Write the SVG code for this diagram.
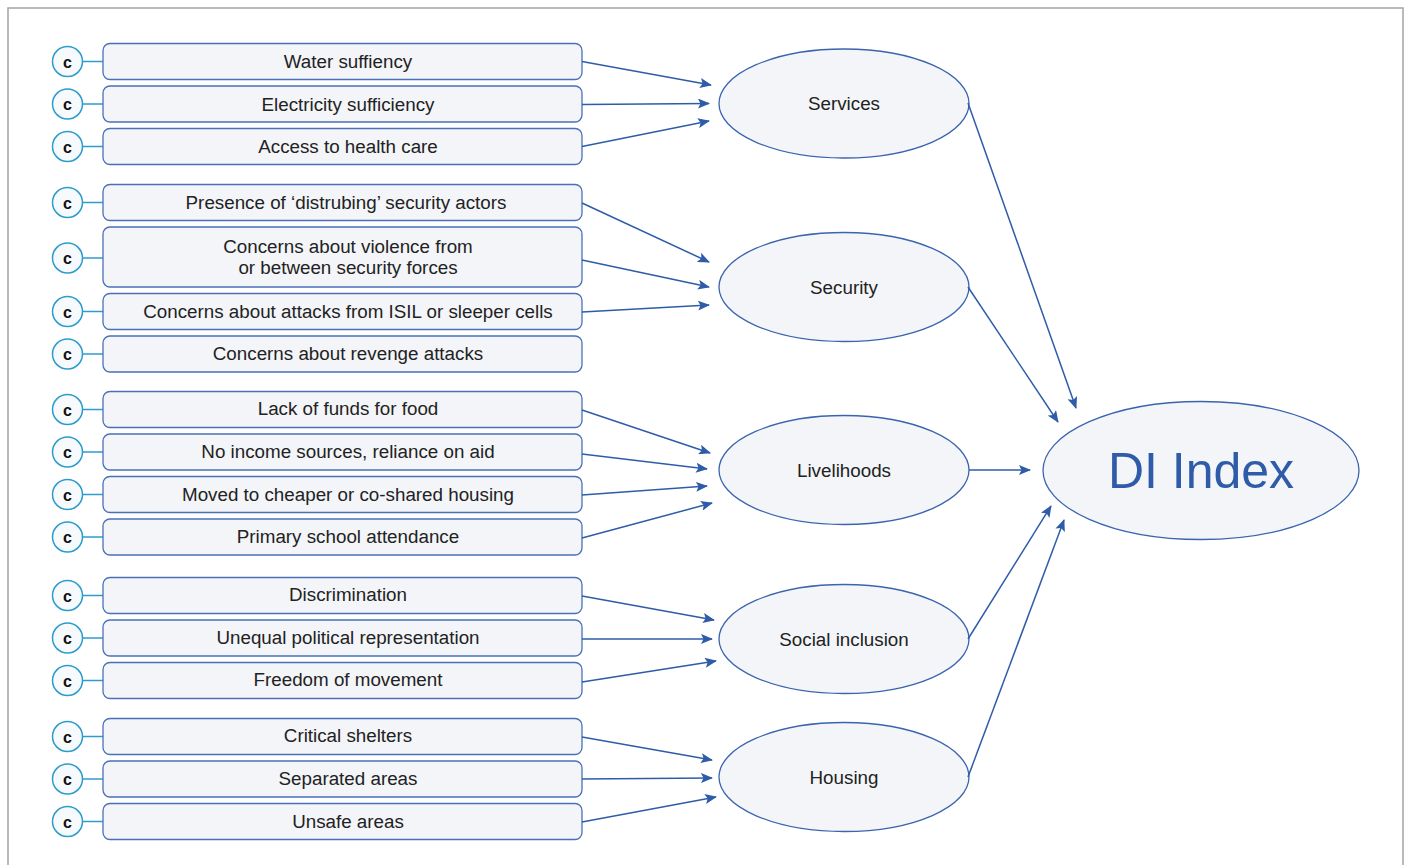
<svg xmlns="http://www.w3.org/2000/svg" width="1410" height="865" viewBox="0 0 1410 865">
  <defs>
    <marker id="arrow" viewBox="0 0 12 10" refX="11" refY="5" markerWidth="12" markerHeight="10" markerUnits="userSpaceOnUse" orient="auto">
      <path d="M0,0 L12,5 L0,10 L2.5,5 Z" fill="#2e5ca8"/>
    </marker>
    <style>
      .frame { fill: none; stroke: #a3a3ab; stroke-width: 1.5; }
      .c-circ { fill: #f6fafc; stroke: #2b9ccc; stroke-width: 1.5; }
      .c-link { stroke: #2b9ccc; stroke-width: 1.5; }
      .c-txt { font-family: "Liberation Sans", Arial, sans-serif; font-size: 16px; font-weight: bold; fill: #111; text-anchor: middle; }
      .box { fill: #f3f5f9; stroke: #4a70b8; stroke-width: 1.3; }
      .lbl { font-family: "Liberation Sans", Arial, sans-serif; font-size: 18.8px; fill: #222; text-anchor: middle; }
      .ell { fill: #f3f5f9; stroke: #3a64ae; stroke-width: 1.3; }
      .big { font-family: "Liberation Sans", Arial, sans-serif; font-size: 50px; fill: #2e5ca8; text-anchor: middle; }
      .edge { fill: none; stroke: #2e5ca8; stroke-width: 1.5; marker-end: url(#arrow); }
    </style>
  </defs>

  <rect width="1410" height="865" fill="#ffffff"/>
  <path class="frame" d="M8,866 V8 H1403 V866"/>

  <!-- indicator boxes with their "c" badges -->
  <g id="n-water">
    <line class="c-link" x1="82" y1="61.5" x2="103" y2="61.5"/>
    <circle class="c-circ" cx="67.5" cy="61.5" r="15"/>
    <text class="c-txt" x="67.5" y="67.5">c</text>
    <rect class="box" x="103" y="43.5" width="479" height="36" rx="7"/>
    <text class="lbl" x="348" y="68">Water suffiency</text>
  </g>
  <g id="n-electricity">
    <line class="c-link" x1="82" y1="104" x2="103" y2="104"/>
    <circle class="c-circ" cx="67.5" cy="104" r="15"/>
    <text class="c-txt" x="67.5" y="110">c</text>
    <rect class="box" x="103" y="86" width="479" height="36" rx="7"/>
    <text class="lbl" x="348" y="110.5">Electricity sufficiency</text>
  </g>
  <g id="n-health">
    <line class="c-link" x1="82" y1="146.5" x2="103" y2="146.5"/>
    <circle class="c-circ" cx="67.5" cy="146.5" r="15"/>
    <text class="c-txt" x="67.5" y="152.5">c</text>
    <rect class="box" x="103" y="128.5" width="479" height="36" rx="7"/>
    <text class="lbl" x="348" y="153">Access to health care</text>
  </g>

  <g id="n-actors">
    <line class="c-link" x1="82" y1="202.5" x2="103" y2="202.5"/>
    <circle class="c-circ" cx="67.5" cy="202.5" r="15"/>
    <text class="c-txt" x="67.5" y="208.5">c</text>
    <rect class="box" x="103" y="184.5" width="479" height="36" rx="7"/>
    <text class="lbl" x="346" y="208.5">Presence of ‘distrubing’ security actors</text>
  </g>
  <g id="n-violence">
    <line class="c-link" x1="82" y1="258" x2="103" y2="258"/>
    <circle class="c-circ" cx="67.5" cy="258" r="15"/>
    <text class="c-txt" x="67.5" y="264">c</text>
    <rect class="box" x="103" y="227" width="479" height="60" rx="7"/>
    <text class="lbl" x="348" y="252.5">Concerns about violence from</text>
    <text class="lbl" x="348" y="274">or between security forces</text>
  </g>
  <g id="n-isil">
    <line class="c-link" x1="82" y1="311.5" x2="103" y2="311.5"/>
    <circle class="c-circ" cx="67.5" cy="311.5" r="15"/>
    <text class="c-txt" x="67.5" y="317.5">c</text>
    <rect class="box" x="103" y="293.5" width="479" height="36" rx="7"/>
    <text class="lbl" x="348" y="317.5">Concerns about attacks from ISIL or sleeper cells</text>
  </g>
  <g id="n-revenge">
    <line class="c-link" x1="82" y1="354" x2="103" y2="354"/>
    <circle class="c-circ" cx="67.5" cy="354" r="15"/>
    <text class="c-txt" x="67.5" y="360">c</text>
    <rect class="box" x="103" y="336" width="479" height="36" rx="7"/>
    <text class="lbl" x="348" y="360">Concerns about revenge attacks</text>
  </g>

  <g id="n-food">
    <line class="c-link" x1="82" y1="409.5" x2="103" y2="409.5"/>
    <circle class="c-circ" cx="67.5" cy="409.5" r="15"/>
    <text class="c-txt" x="67.5" y="415.5">c</text>
    <rect class="box" x="103" y="391.5" width="479" height="36" rx="7"/>
    <text class="lbl" x="348" y="415">Lack of funds for food</text>
  </g>
  <g id="n-income">
    <line class="c-link" x1="82" y1="452" x2="103" y2="452"/>
    <circle class="c-circ" cx="67.5" cy="452" r="15"/>
    <text class="c-txt" x="67.5" y="458">c</text>
    <rect class="box" x="103" y="434" width="479" height="36" rx="7"/>
    <text class="lbl" x="348" y="458">No income sources, reliance on aid</text>
  </g>
  <g id="n-housing-move">
    <line class="c-link" x1="82" y1="494.5" x2="103" y2="494.5"/>
    <circle class="c-circ" cx="67.5" cy="494.5" r="15"/>
    <text class="c-txt" x="67.5" y="500.5">c</text>
    <rect class="box" x="103" y="476.5" width="479" height="36" rx="7"/>
    <text class="lbl" x="348" y="500.5">Moved to cheaper or co-shared housing</text>
  </g>
  <g id="n-school">
    <line class="c-link" x1="82" y1="537" x2="103" y2="537"/>
    <circle class="c-circ" cx="67.5" cy="537" r="15"/>
    <text class="c-txt" x="67.5" y="543">c</text>
    <rect class="box" x="103" y="519" width="479" height="36" rx="7"/>
    <text class="lbl" x="348" y="543">Primary school attendance</text>
  </g>

  <g id="n-discrimination">
    <line class="c-link" x1="82" y1="595.5" x2="103" y2="595.5"/>
    <circle class="c-circ" cx="67.5" cy="595.5" r="15"/>
    <text class="c-txt" x="67.5" y="601.5">c</text>
    <rect class="box" x="103" y="577.5" width="479" height="36" rx="7"/>
    <text class="lbl" x="348" y="601">Discrimination</text>
  </g>
  <g id="n-political">
    <line class="c-link" x1="82" y1="638" x2="103" y2="638"/>
    <circle class="c-circ" cx="67.5" cy="638" r="15"/>
    <text class="c-txt" x="67.5" y="644">c</text>
    <rect class="box" x="103" y="620" width="479" height="36" rx="7"/>
    <text class="lbl" x="348" y="644">Unequal political representation</text>
  </g>
  <g id="n-movement">
    <line class="c-link" x1="82" y1="680.5" x2="103" y2="680.5"/>
    <circle class="c-circ" cx="67.5" cy="680.5" r="15"/>
    <text class="c-txt" x="67.5" y="686.5">c</text>
    <rect class="box" x="103" y="662.5" width="479" height="36" rx="7"/>
    <text class="lbl" x="348" y="686">Freedom of movement</text>
  </g>

  <g id="n-shelters">
    <line class="c-link" x1="82" y1="736.5" x2="103" y2="736.5"/>
    <circle class="c-circ" cx="67.5" cy="736.5" r="15"/>
    <text class="c-txt" x="67.5" y="742.5">c</text>
    <rect class="box" x="103" y="718.5" width="479" height="36" rx="7"/>
    <text class="lbl" x="348" y="742">Critical shelters</text>
  </g>
  <g id="n-separated">
    <line class="c-link" x1="82" y1="779" x2="103" y2="779"/>
    <circle class="c-circ" cx="67.5" cy="779" r="15"/>
    <text class="c-txt" x="67.5" y="785">c</text>
    <rect class="box" x="103" y="761" width="479" height="36" rx="7"/>
    <text class="lbl" x="348" y="785">Separated areas</text>
  </g>
  <g id="n-unsafe">
    <line class="c-link" x1="82" y1="821.5" x2="103" y2="821.5"/>
    <circle class="c-circ" cx="67.5" cy="821.5" r="15"/>
    <text class="c-txt" x="67.5" y="827.5">c</text>
    <rect class="box" x="103" y="803.5" width="479" height="36" rx="7"/>
    <text class="lbl" x="348" y="828">Unsafe areas</text>
  </g>

  <!-- dimension ellipses -->
  <g id="n-services">
    <ellipse class="ell" cx="844" cy="103.5" rx="125" ry="54.5"/>
    <text class="lbl" x="844" y="110">Services</text>
  </g>
  <g id="n-security">
    <ellipse class="ell" cx="844" cy="287" rx="125" ry="54.5"/>
    <text class="lbl" x="844" y="294">Security</text>
  </g>
  <g id="n-livelihoods">
    <ellipse class="ell" cx="844" cy="470" rx="125" ry="54.5"/>
    <text class="lbl" x="844" y="477">Livelihoods</text>
  </g>
  <g id="n-social">
    <ellipse class="ell" cx="844" cy="639" rx="125" ry="54.5"/>
    <text class="lbl" x="844" y="646">Social inclusion</text>
  </g>
  <g id="n-housing">
    <ellipse class="ell" cx="844" cy="777" rx="125" ry="54.5"/>
    <text class="lbl" x="844" y="784">Housing</text>
  </g>

  <g id="n-di">
    <ellipse class="ell" cx="1201" cy="470.5" rx="158" ry="69"/>
    <text class="big" x="1201" y="488">DI Index</text>
  </g>

  <!-- connectors -->
  <g id="connectors">
    <line class="edge" x1="582" y1="61.5" x2="711" y2="85"/>
    <line class="edge" x1="582" y1="104.5" x2="709" y2="103.5"/>
    <line class="edge" x1="582" y1="146.5" x2="709" y2="121"/>

    <line class="edge" x1="582" y1="203" x2="709" y2="262"/>
    <line class="edge" x1="582" y1="260" x2="709" y2="287"/>
    <line class="edge" x1="582" y1="312" x2="709" y2="305"/>

    <line class="edge" x1="582" y1="410" x2="710" y2="453"/>
    <line class="edge" x1="582" y1="454" x2="707" y2="469"/>
    <line class="edge" x1="582" y1="495" x2="707" y2="486"/>
    <line class="edge" x1="582" y1="538" x2="712" y2="503"/>

    <line class="edge" x1="582" y1="596" x2="714" y2="620"/>
    <line class="edge" x1="582" y1="639" x2="712" y2="639"/>
    <line class="edge" x1="582" y1="682" x2="716" y2="661"/>

    <line class="edge" x1="582" y1="737" x2="712" y2="760"/>
    <line class="edge" x1="582" y1="779" x2="712" y2="778"/>
    <line class="edge" x1="582" y1="822" x2="716" y2="797"/>

    <line class="edge" x1="968" y1="103" x2="1076" y2="408"/>
    <line class="edge" x1="968" y1="287" x2="1058" y2="422"/>
    <line class="edge" x1="969" y1="470" x2="1030" y2="470"/>
    <line class="edge" x1="968" y1="639" x2="1051" y2="506"/>
    <line class="edge" x1="968" y1="777" x2="1064" y2="520"/>
  </g>
</svg>
